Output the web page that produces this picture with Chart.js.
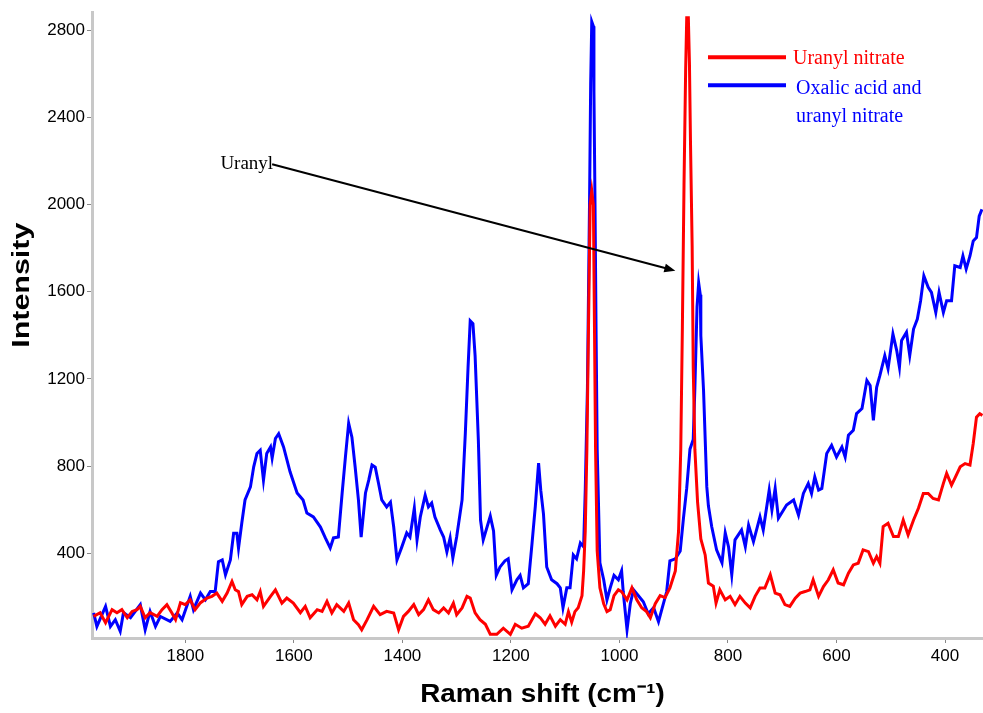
<!DOCTYPE html>
<html><head><meta charset="utf-8">
<script src="https://cdn.jsdelivr.net/npm/chart.js@4/dist/chart.umd.min.js"></script>
<style>html,body{margin:0;padding:0;background:#fff;}#wrap{position:relative;width:983px;height:713px;}</style>
</head><body><div id="wrap"><canvas id="c" width="983" height="713"></canvas></div>
<script>
// ---- data (Raman shift in cm-1, intensity) ----
const seriesNames = ['Uranyl nitrate', 'Oxalic acid and uranyl nitrate'];
const legendLines = [['Uranyl nitrate'], ['Oxalic acid and', 'uranyl nitrate']];
const xTickValues = [1800, 1600, 1400, 1200, 1000, 800, 600, 400];
const yTickValues = [400, 800, 1200, 1600, 2000, 2400, 2800];
const xTitle = 'Raman shift (cm\u207B\u00B9)';
const yTitle = 'Intensity';
const annotationLabel = 'Uranyl';
const arrowFrom = [1640, 2185];
const arrowTo = [897, 1696];

const redShift = [1969,1957,1947,1935,1926,1917,1907,1898,1889,1883,1874,1865,1852,1843,1834,1825,1818,1809,1800,1791,1782,1772,1760,1751,1742,1732,1723,1714,1708,1702,1696,1686,1677,1668,1662,1656,1643,1634,1622,1613,1601,1588,1579,1570,1557,1548,1539,1530,1521,1508,1499,1490,1481,1475,1465,1453,1441,1429,1416,1407,1398,1389,1379,1370,1361,1352,1343,1333,1324,1315,1306,1300,1290,1281,1275,1266,1257,1247,1238,1226,1214,1201,1192,1180,1168,1155,1146,1137,1128,1118,1109,1100,1094,1088,1082,1076,1069,1066,1063,1060,1057,1054,1051,1048,1046,1044,1041,1036,1029,1023,1017,1010,1002,996,986,977,968,959,950,943,934,925,916,907,897,891,887,884,881,878,876,873,871,869,866,864,861,856,850,842,836,827,822,815,805,796,787,778,768,759,750,741,732,722,713,704,695,686,676,667,658,649,643,633,624,615,606,597,587,578,569,560,551,541,532,526,520,514,505,495,486,477,468,458,449,440,431,422,412,403,397,388,382,372,363,354,348,342,336,331];
const redIntensity = [111,128,82,142,128,142,105,134,142,157,105,128,111,142,165,128,96,174,165,187,142,174,195,203,218,180,218,271,233,225,165,203,210,187,225,157,203,233,172,195,172,128,157,105,142,134,180,127,165,134,172,96,73,50,96,157,119,134,127,50,111,134,165,119,142,187,142,127,150,127,172,119,150,203,195,127,96,75,29,29,57,29,75,57,66,123,105,75,114,66,96,75,133,85,133,151,206,320,503,878,1438,1998,2062,1998,1438,878,411,242,169,133,142,206,233,224,187,242,187,151,133,105,169,206,197,242,320,503,878,1438,2089,2615,2856,2856,2651,2276,1810,1252,878,635,466,393,264,250,172,233,187,203,165,203,172,150,203,241,241,302,218,210,165,157,195,218,225,233,279,203,248,279,325,264,256,309,347,355,416,408,355,385,355,523,538,477,477,553,485,553,607,675,675,652,645,721,767,713,744,797,812,805,904,1025,1041,1033];

const blueShift = [1969,1963,1947,1938,1929,1920,1914,1901,1883,1874,1865,1855,1846,1828,1815,1806,1791,1785,1772,1763,1754,1745,1739,1732,1726,1717,1711,1705,1702,1696,1690,1680,1674,1668,1662,1656,1650,1643,1640,1634,1628,1619,1607,1594,1583,1576,1564,1551,1542,1533,1527,1518,1511,1505,1499,1493,1487,1481,1476,1468,1462,1456,1450,1444,1438,1429,1422,1416,1410,1401,1392,1386,1378,1373,1367,1358,1352,1346,1340,1330,1324,1318,1312,1307,1300,1290,1284,1279,1275,1270,1266,1260,1256,1251,1238,1232,1227,1220,1211,1205,1198,1189,1183,1177,1168,1161,1155,1149,1145,1140,1134,1125,1115,1109,1104,1097,1091,1085,1079,1072,1066,1063,1059,1055,1053,1051,1048,1047,1045,1043,1041,1036,1029,1023,1017,1010,1002,996,993,986,980,974,965,956,947,937,928,922,913,907,897,888,882,876,870,864,861,857,854,851,850,845,839,836,830,821,811,805,799,793,787,775,768,762,753,741,735,724,719,713,707,692,679,670,661,652,646,640,633,627,618,609,600,590,584,578,569,563,553,544,538,532,526,520,511,505,496,489,484,480,471,465,458,451,445,439,431,425,417,411,403,397,388,382,372,367,361,354,348,342,337,332];
const blueIntensity = [127,65,157,65,96,43,128,105,165,50,134,65,111,88,127,96,203,142,218,187,225,225,362,370,302,370,492,492,424,538,645,705,797,858,873,736,858,888,837,927,949,888,774,677,645,585,567,521,471,425,471,475,677,841,997,933,795,645,475,677,736,805,795,722,645,613,635,521,370,430,494,475,608,462,567,667,613,631,567,507,475,407,471,379,475,645,951,1252,1467,1454,1307,919,553,462,571,503,299,338,366,375,233,279,299,242,261,448,617,814,690,581,338,279,261,242,151,242,242,393,375,448,430,690,1157,2034,2555,2839,2818,2519,1998,1399,878,357,279,187,242,299,279,320,224,50,169,233,206,178,123,151,87,142,224,366,375,411,562,699,878,923,1157,1531,1641,1586,1399,1147,705,617,523,416,357,494,431,302,462,507,431,530,454,568,507,690,599,698,561,622,645,576,675,721,675,751,690,698,858,896,842,888,842,942,965,1041,1064,1193,1170,1010,1162,1216,1307,1247,1406,1330,1254,1376,1414,1307,1429,1475,1559,1673,1620,1597,1505,1597,1505,1559,1559,1719,1711,1764,1704,1764,1833,1848,1947,1978];

const seriesColors = ['rgb(255,0,0)', 'rgb(0,0,255)'];

function toPoints(xs, ys) { return xs.map((x, i) => ({x: x, y: ys[i]})); }

const decorPlugin = {
  id: 'decor',
  afterDatasetsDraw(chart) {
    const ctx = chart.ctx;
    const xs = chart.scales.x, ys = chart.scales.y;
    ctx.save();
    // annotation arrow
    const x0 = xs.getPixelForValue(arrowFrom[0]), y0 = ys.getPixelForValue(arrowFrom[1]);
    const x1 = xs.getPixelForValue(arrowTo[0]), y1 = ys.getPixelForValue(arrowTo[1]);
    ctx.strokeStyle = '#000'; ctx.fillStyle = '#000'; ctx.lineWidth = 2;
    const ang = Math.atan2(y1 - y0, x1 - x0);
    const hl = 11, hw = 4.5;
    ctx.beginPath(); ctx.moveTo(x0, y0);
    ctx.lineTo(x1 - Math.cos(ang) * hl * 0.8, y1 - Math.sin(ang) * hl * 0.8); ctx.stroke();
    ctx.beginPath(); ctx.moveTo(x1, y1);
    ctx.lineTo(x1 - Math.cos(ang) * hl - Math.sin(ang) * hw, y1 - Math.sin(ang) * hl + Math.cos(ang) * hw);
    ctx.lineTo(x1 - Math.cos(ang) * hl + Math.sin(ang) * hw, y1 - Math.sin(ang) * hl - Math.cos(ang) * hw);
    ctx.closePath(); ctx.fill();
    ctx.font = '19px "Liberation Serif", "Times New Roman", serif';
    ctx.textAlign = 'right'; ctx.textBaseline = 'middle';
    ctx.fillText(annotationLabel, x0 + 1, y0);
    // legend
    const area = chart.chartArea;
    const lx0 = area.right - 275, lx1 = area.right - 197, tx = area.right - 190;
    ctx.lineWidth = 4;
    const rows = [45, 73];
    legendLines.forEach((lines, i) => {
      const ly = area.top + rows[i];
      ctx.strokeStyle = seriesColors[i];
      ctx.beginPath(); ctx.moveTo(lx0, ly); ctx.lineTo(lx1, ly); ctx.stroke();
      ctx.fillStyle = seriesColors[i];
      ctx.font = '20px "Liberation Serif", "Times New Roman", serif';
      ctx.textAlign = 'left'; ctx.textBaseline = 'middle';
      lines.forEach((t, j) => ctx.fillText(t, tx + (i === 1 ? 3 : 0), ly + 2 + (i === 1 ? 2 : 0) + j * 28));
    });
    ctx.restore();
  },
  afterDraw(chart) {
    const ctx = chart.ctx;
    const area = chart.chartArea;
    ctx.save();
    ctx.fillStyle = '#000';
    ctx.font = 'bold 26px "Liberation Sans", Arial, sans-serif';
    ctx.textAlign = 'center'; ctx.textBaseline = 'middle';
    ctx.save();
    ctx.translate((area.left + area.right) / 2 + 5, chart.height - 18);
    ctx.scale(1.07, 1.0);
    ctx.fillText(xTitle, 0, 0);
    ctx.restore();
    ctx.translate(22, area.top + 273);
    ctx.rotate(-Math.PI / 2);
    ctx.scale(1.17, 0.92);
    ctx.fillText(yTitle, 0, 0);
    ctx.restore();
  }
};

const tickFont = {family: '"Liberation Sans", Arial, sans-serif', size: 17};

new Chart(document.getElementById('c'), {
  type: 'line',
  data: {
    datasets: [
      {label: seriesNames[0], data: toPoints(redShift, redIntensity), borderColor: seriesColors[0], borderWidth: 3, pointRadius: 0, tension: 0, fill: false},
      {label: seriesNames[1], data: toPoints(blueShift, blueIntensity), borderColor: seriesColors[1], borderWidth: 3, pointRadius: 0, tension: 0, fill: false}
    ]
  },
  options: {
    responsive: false, animation: false, devicePixelRatio: 1,
    layout: {padding: {top: 10, right: 0, left: 0, bottom: 0}},
    plugins: {legend: {display: false}, tooltip: {enabled: false}},
    scales: {
      x: {
        type: 'linear', reverse: true, min: 330, max: 1972, position: 'bottom',
        afterBuildTicks: s => { s.ticks = xTickValues.map(v => ({value: v})); },
        afterFit: s => { s.height = 75; },
        grid: {display: true, drawOnChartArea: false, drawTicks: true, tickLength: 5, color: '#888', lineWidth: 1},
        border: {display: true, color: '#c8c8c8', width: 3},
        ticks: {font: tickFont, color: '#000', padding: 3, maxRotation: 0, autoSkip: false, callback: v => String(v)}
      },
      y: {
        type: 'linear', min: 12, max: 2882,
        afterBuildTicks: s => { s.ticks = yTickValues.map(v => ({value: v})); },
        afterFit: s => { s.width = 92; },
        grid: {display: true, drawOnChartArea: false, drawTicks: true, tickLength: 5, color: '#888', lineWidth: 1},
        border: {display: true, color: '#c8c8c8', width: 3},
        ticks: {font: tickFont, color: '#000', padding: 2, autoSkip: false, callback: v => String(v)}
      }
    }
  },
  plugins: [decorPlugin]
});
</script></body></html>
